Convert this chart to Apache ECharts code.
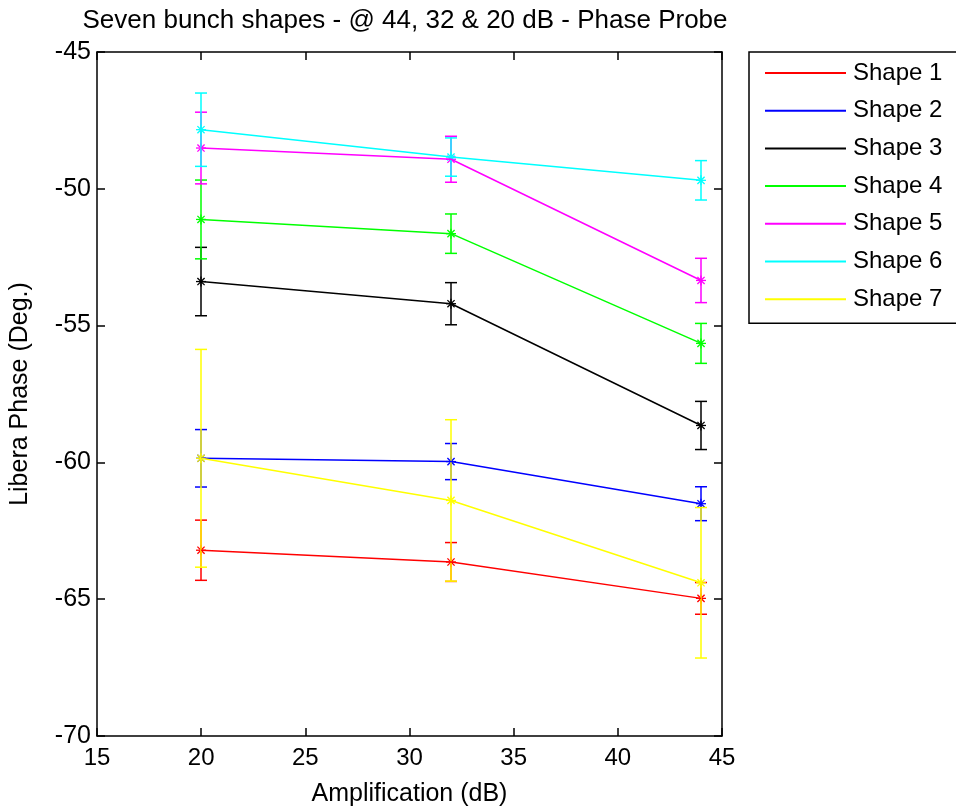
<!DOCTYPE html>
<html>
<head>
<meta charset="utf-8">
<script src="https://cdn.jsdelivr.net/npm/echarts@6/dist/echarts.min.js"></script>
<style>html,body{margin:0;padding:0;background:#fff}#c{width:956px;height:812px}</style>
</head>
<body>
<div id="c"></div>
<script>
var xValues = [20, 32, 44];
var seriesNames = ['Shape 1','Shape 2','Shape 3','Shape 4','Shape 5','Shape 6','Shape 7'];
var seriesColors = ['#ff0000','#0000ff','#000000','#00ff00','#ff00ff','#00ffff','#ffff00'];
var shape1 = [-63.21, -63.64, -64.97];
var shape2 = [-59.85, -59.97, -61.51];
var shape3 = [-53.39, -54.20, -58.65];
var shape4 = [-51.12, -51.64, -55.65];
var shape5 = [-48.51, -48.92, -53.35];
var shape6 = [-47.84, -48.84, -49.69];
var shape7 = [-59.85, -61.39, -64.40];
var err1 = [1.10, 0.71, 0.58];
var err2 = [1.05, 0.66, 0.62];
var err3 = [1.25, 0.77, 0.88];
var err4 = [1.44, 0.72, 0.73];
var err5 = [1.31, 0.84, 0.81];
var err6 = [1.34, 0.70, 0.72];
var err7 = [3.98, 2.95, 2.75];
var yTicks = {min: -70, max: -45, interval: 5};
var xTicks = {min: 15, max: 45, interval: 5};
var titleText = 'Seven bunch shapes - @ 44, 32 & 20 dB - Phase Probe';
var xName = 'Amplification (dB)';
var yName = 'Libera Phase (Deg.)';

var means = [shape1, shape2, shape3, shape4, shape5, shape6, shape7];
var errs = [err1, err2, err3, err4, err5, err6, err7];
var FONT = "'Liberation Sans', Arial, Helvetica, sans-serif";

function makeErr(color) {
  return function (params, api) {
    var x = api.value(0), m = api.value(1), e = api.value(2);
    var pt = api.coord([x, m]);
    var hi = api.coord([x, m + e]);
    var lo = api.coord([x, m - e]);
    var cx = Math.round(pt[0]);
    var cy = pt[1];
    var w = 6, r = 5, d = 3.6;
    var st = {stroke: color, lineWidth: 1.5, fill: null};
    var st2 = {stroke: color, lineWidth: 1.3, fill: null};
    return {type: 'group', children: [
      {type: 'line', shape: {x1: cx, y1: hi[1], x2: cx, y2: lo[1]}, style: st},
      {type: 'line', shape: {x1: cx - w, y1: hi[1], x2: cx + w, y2: hi[1]}, style: st},
      {type: 'line', shape: {x1: cx - w, y1: lo[1], x2: cx + w, y2: lo[1]}, style: st},
      {type: 'line', shape: {x1: cx - r, y1: cy, x2: cx + r, y2: cy}, style: st2},
      {type: 'line', shape: {x1: cx, y1: cy - r, x2: cx, y2: cy + r}, style: st2},
      {type: 'line', shape: {x1: cx - d, y1: cy - d, x2: cx + d, y2: cy + d}, style: st2},
      {type: 'line', shape: {x1: cx - d, y1: cy + d, x2: cx + d, y2: cy - d}, style: st2}
    ]};
  };
}

var series = [];
for (var i = 0; i < seriesNames.length; i++) {
  var errData = [], lineData = [];
  for (var j = 0; j < xValues.length; j++) {
    errData.push([xValues[j], means[i][j], errs[i][j]]);
    lineData.push([xValues[j], means[i][j]]);
  }
  series.push({
    type: 'custom', name: seriesNames[i] + ' error', renderItem: makeErr(seriesColors[i]),
    data: errData, encode: {x: 0, y: 1}, silent: true, z: 2
  });
  series.push({
    type: 'line', name: seriesNames[i], data: lineData, symbol: 'none',
    lineStyle: {color: seriesColors[i], width: 1.5}, itemStyle: {color: seriesColors[i]},
    silent: true, animation: false, z: 2
  });
}

var axisCommon = {
  axisLine: {show: true, onZero: false, lineStyle: {color: '#000', width: 1.5}},
  axisTick: {show: true, inside: true, length: 8, lineStyle: {color: '#000', width: 1.5}},
  splitLine: {show: false}
};

var legendData = seriesNames.map(function (n) {
  return {name: n, icon: 'rect'};
});

var chart = echarts.init(document.getElementById('c'));
chart.setOption({
  animation: false,
  backgroundColor: '#fff',
  grid: {left: 97, top: 52, right: 234, bottom: 74, containLabel: false},
  graphic: [{
    type: 'text', x: 405, y: 21,
    style: {text: titleText, font: '26px ' + FONT, fill: '#000', align: 'center', verticalAlign: 'middle'}
  }],
  legend: {
    orient: 'vertical', left: 749, top: 52,
    data: legendData,
    itemWidth: 81, itemHeight: 2, itemGap: 13.7,
    padding: [9, 60, 12, 16],
    borderColor: '#000', borderWidth: 1.5,
    selectedMode: false,
    textStyle: {color: '#000', fontSize: 24, lineHeight: 24, fontFamily: FONT, padding: [0, 0, 0, 2]}
  },
  xAxis: [
    Object.assign({type: 'value', position: 'bottom', min: xTicks.min, max: xTicks.max, interval: xTicks.interval,
      name: xName, nameLocation: 'middle', nameGap: 46,
      nameTextStyle: {color: '#000', fontSize: 25, fontFamily: FONT},
      axisLabel: {color: '#000', fontSize: 24, fontFamily: FONT, margin: 10}}, axisCommon),
    Object.assign({type: 'value', position: 'top', min: xTicks.min, max: xTicks.max, interval: xTicks.interval,
      axisLabel: {show: false}}, axisCommon)
  ],
  yAxis: [
    Object.assign({type: 'value', position: 'left', min: yTicks.min, max: yTicks.max, interval: yTicks.interval,
      name: yName, nameLocation: 'middle', nameGap: 64,
      nameTextStyle: {color: '#000', fontSize: 25, fontFamily: FONT},
      axisLabel: {color: '#000', fontSize: 25, fontFamily: FONT, margin: 6}}, axisCommon),
    Object.assign({type: 'value', position: 'right', min: yTicks.min, max: yTicks.max, interval: yTicks.interval,
      axisLabel: {show: false}}, axisCommon)
  ],
  series: series
});
</script>
</body>
</html>
